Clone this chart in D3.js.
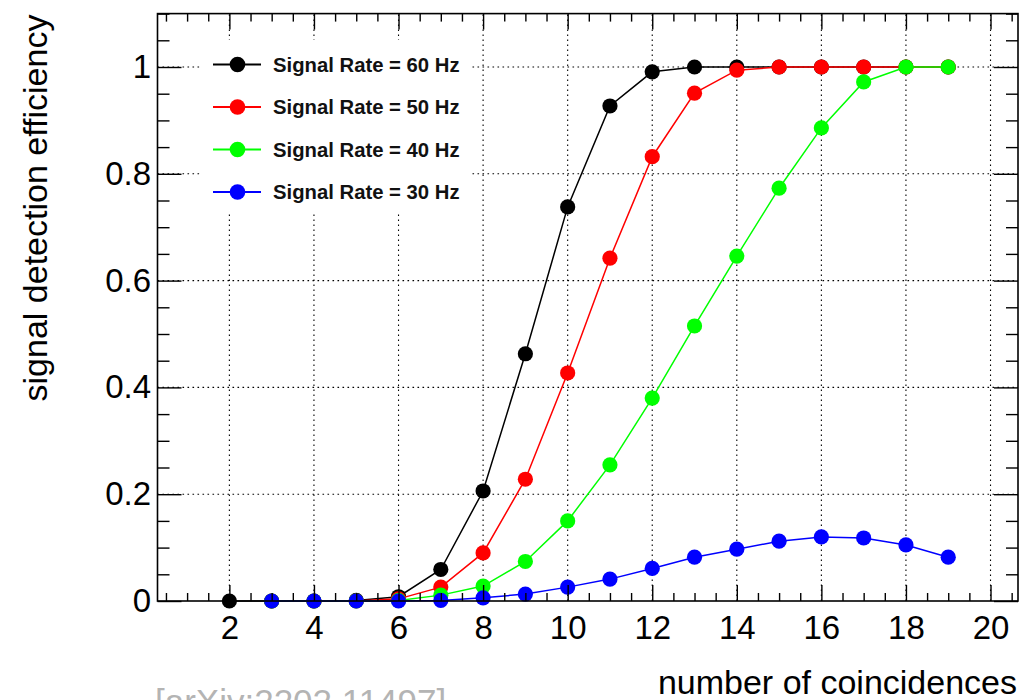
<!DOCTYPE html>
<html>
<head>
<meta charset="utf-8">
<script src="https://cdn.jsdelivr.net/npm/d3@7"></script>
<style>
  html, body { margin: 0; padding: 0; background: #fff; }
  svg { display: block; font-family: "Liberation Sans", Arial, Helvetica, sans-serif; }
</style>
</head>
<body>
<svg id="chart" width="1020" height="700"></svg>
<script>
// ---------------- data ----------------
const seriesNames = ["Signal Rate = 60 Hz", "Signal Rate = 50 Hz", "Signal Rate = 40 Hz", "Signal Rate = 30 Hz"];
const seriesColors = ["#000000", "#ff0000", "#00ff00", "#0000ff"];

const x60 = [2, 3, 4, 5, 6, 7, 8, 9, 10, 11, 12, 13, 14, 15, 16, 17, 18, 19];
const y60 = [0, 0, 0, 0.001, 0.008, 0.059, 0.206, 0.463, 0.738, 0.927, 0.991, 1.0, 1.0, 1.0, 1.0, 1.0, 1.0, 1.0];

const x50 = [3, 4, 5, 6, 7, 8, 9, 10, 11, 12, 13, 14, 15, 16, 17, 18, 19];
const y50 = [0, 0, 0, 0.004, 0.026, 0.09, 0.228, 0.427, 0.642, 0.832, 0.951, 0.994, 1.0, 1.0, 1.0, 1.0, 1.0];

const x40 = [3, 4, 5, 6, 7, 8, 9, 10, 11, 12, 13, 14, 15, 16, 17, 18, 19];
const y40 = [0, 0, 0, 0.001, 0.011, 0.028, 0.074, 0.15, 0.255, 0.38, 0.515, 0.646, 0.773, 0.886, 0.972, 1.0, 1.0];

const x30 = [3, 4, 5, 6, 7, 8, 9, 10, 11, 12, 13, 14, 15, 16, 17, 18, 19];
const y30 = [0, 0, 0, 0, 0.001, 0.006, 0.013, 0.026, 0.041, 0.061, 0.082, 0.097, 0.112, 0.12, 0.118, 0.105, 0.082];

const xMajorTicks = [2, 4, 6, 8, 10, 12, 14, 16, 18, 20];
const yMajorTicks = [0, 0.2, 0.4, 0.6, 0.8, 1.0];
const yTickLabels = ["0", "0.2", "0.4", "0.6", "0.8", "1"];

const xTitle = "number of coincidences";
const yTitle = "signal detection efficiency";
const sourceNote = "[arXiv:2202.11497]";

// ---------------- layout ----------------
const frame = { left: 157.5, right: 1018, top: 13.6, bottom: 601 };
const xDomain = [0.3, 20.65];
const yDomain = [0, 1.1];

const svg = d3.select("#chart");
const x = d3.scaleLinear().domain(xDomain).range([frame.left, frame.right]);
const y = d3.scaleLinear().domain(yDomain).range([frame.bottom, frame.top]);

const xMinor = d3.range(0.5, 20.65, 0.5).filter(v => !xMajorTicks.includes(v));
const yMinor = d3.range(0.05, 1.101, 0.05).map(v => +v.toFixed(2)).filter(v => !yMajorTicks.some(t => Math.abs(t - v) < 1e-9));

const series = [
  { xs: x60, ys: y60 },
  { xs: x50, ys: y50 },
  { xs: x40, ys: y40 },
  { xs: x30, ys: y30 }
].map((s, i) => ({
  name: seriesNames[i],
  color: seriesColors[i],
  points: s.xs.map((xv, j) => ({ x: xv, y: s.ys[j] }))
}));

// ---------------- grid ----------------
const grid = svg.append("g").attr("class", "grid")
  .attr("stroke", "#000").attr("stroke-width", 1.1).attr("stroke-dasharray", "1.6,3.4");
grid.selectAll("line.v").data(xMajorTicks).join("line").attr("class", "v")
  .attr("x1", d => x(d)).attr("x2", d => x(d))
  .attr("y1", y(yDomain[0])).attr("y2", y(yDomain[1]));
grid.selectAll("line.h").data(yMajorTicks.filter(d => d > 0)).join("line").attr("class", "h")
  .attr("x1", x(xDomain[0])).attr("x2", x(xDomain[1]))
  .attr("y1", d => y(d)).attr("y2", d => y(d));

// ---------------- legend background ----------------
const legend = { left: 200, top: 40, right: 470, bottom: 212, rowY0: 64.5, rowStep: 42.5 };
svg.append("rect")
  .attr("x", legend.left).attr("y", legend.top)
  .attr("width", legend.right - legend.left).attr("height", legend.bottom - legend.top)
  .attr("fill", "#fff");

// ---------------- series ----------------
const line = d3.line().x(d => x(d.x)).y(d => y(d.y));
series.forEach(s => {
  const g = svg.append("g");
  g.append("path").datum(s.points)
    .attr("d", line).attr("fill", "none")
    .attr("stroke", s.color).attr("stroke-width", 1.5);
  g.selectAll("circle").data(s.points).join("circle")
    .attr("cx", d => x(d.x)).attr("cy", d => y(d.y)).attr("r", 7.6)
    .attr("fill", s.color);
});

// ---------------- legend entries ----------------
const lg = svg.append("g");
series.forEach((s, i) => {
  const cy = legend.rowY0 + i * legend.rowStep;
  lg.append("line").attr("x1", 213).attr("x2", 261).attr("y1", cy).attr("y2", cy)
    .attr("stroke", s.color).attr("stroke-width", 1.8);
  lg.append("circle").attr("cx", 237.5).attr("cy", cy).attr("r", 7.8).attr("fill", s.color);
  lg.append("text").attr("x", 273).attr("y", cy).attr("dy", "0.36em")
    .attr("font-size", 20.3).attr("font-weight", "bold").attr("fill", "#111")
    .text(s.name);
});

// ---------------- axes / frame ----------------
const axisStyle = g => {
  g.select(".domain").remove();
  g.selectAll(".tick line").attr("stroke", "#000").attr("stroke-width", 1.4);
  g.selectAll("text").attr("font-size", 33).attr("fill", "#000")
    .attr("font-family", '"Liberation Sans", Arial, Helvetica, sans-serif');
};

// bottom major with labels
svg.append("g").attr("transform", `translate(0,${frame.bottom})`)
  .call(d3.axisBottom(x).tickValues(xMajorTicks).tickSize(-16).tickPadding(15).tickFormat(d3.format("d")))
  .call(axisStyle);
// bottom minor
svg.append("g").attr("transform", `translate(0,${frame.bottom})`)
  .call(d3.axisBottom(x).tickValues(xMinor).tickSize(-8).tickFormat(""))
  .call(axisStyle);
// top major / minor
svg.append("g").attr("transform", `translate(0,${frame.top})`)
  .call(d3.axisTop(x).tickValues(xMajorTicks).tickSize(-16).tickFormat(""))
  .call(axisStyle);
svg.append("g").attr("transform", `translate(0,${frame.top})`)
  .call(d3.axisTop(x).tickValues(xMinor).tickSize(-8).tickFormat(""))
  .call(axisStyle);
// left major with labels
svg.append("g").attr("transform", `translate(${frame.left},0)`)
  .call(d3.axisLeft(y).tickValues(yMajorTicks).tickSize(-24).tickPadding(6.5)
    .tickFormat((d, i) => yTickLabels[i]))
  .call(axisStyle);
svg.append("g").attr("transform", `translate(${frame.left},0)`)
  .call(d3.axisLeft(y).tickValues(yMinor).tickSize(-12).tickFormat(""))
  .call(axisStyle);
// right major / minor
svg.append("g").attr("transform", `translate(${frame.right},0)`)
  .call(d3.axisRight(y).tickValues(yMajorTicks).tickSize(-24).tickFormat(""))
  .call(axisStyle);
svg.append("g").attr("transform", `translate(${frame.right},0)`)
  .call(d3.axisRight(y).tickValues(yMinor).tickSize(-12).tickFormat(""))
  .call(axisStyle);

// frame
svg.append("rect")
  .attr("x", frame.left).attr("y", frame.top)
  .attr("width", frame.right - frame.left).attr("height", frame.bottom - frame.top)
  .attr("fill", "none").attr("stroke", "#000").attr("stroke-width", 1.6);

// ---------------- titles ----------------
svg.append("text")
  .attr("x", frame.right - 1).attr("y", 694)
  .attr("text-anchor", "end").attr("font-size", 34).attr("fill", "#000")
  .text(xTitle);

svg.append("text")
  .attr("transform", `translate(47,${frame.top + 1}) rotate(-90)`)
  .attr("text-anchor", "end").attr("font-size", 34).attr("fill", "#000")
  .text(yTitle);

svg.append("text")
  .attr("x", 155).attr("y", 714)
  .attr("font-size", 35).attr("fill", "#b4b4b4")
  .text(sourceNote);
</script>
</body>
</html>
